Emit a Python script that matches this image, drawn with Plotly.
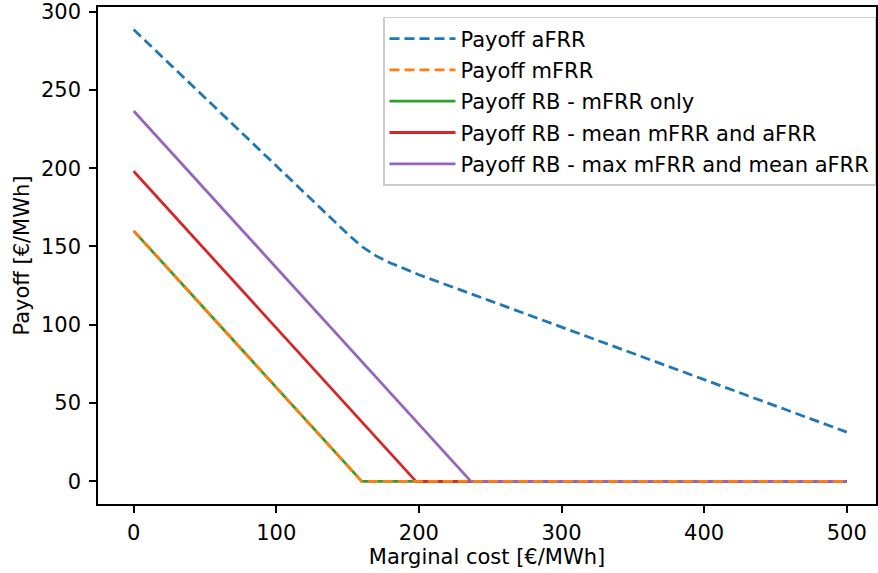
import plotly.graph_objects as go

# Marginal cost grid (€/MWh) and payoff curves (€/MWh)
cost_afrr = [0, 40, 80, 120, 150, 160, 170, 180, 190, 200, 250, 300, 350, 400, 450, 500]
payoff_afrr = [288.5, 253.7, 218.9, 184.1, 158.0, 150.0, 144.0, 139.5, 135.5, 132.0,
               115.3, 98.5, 81.8, 65.0, 48.3, 31.5]

cost_mfrr = [0, 160, 500]
payoff_mfrr = [160, 0, 0]

cost_rb_mfrr = [0, 160, 500]
payoff_rb_mfrr = [160, 0, 0]

cost_rb_mean = [0, 198, 500]
payoff_rb_mean = [198, 0, 0]

cost_rb_max = [0, 236.5, 500]
payoff_rb_max = [236.5, 0, 0]

x_ticks = [0, 100, 200, 300, 400, 500]
y_ticks = [0, 50, 100, 150, 200, 250, 300]

FONT = "DejaVu Sans"
FS = 21
LW = 2.8
DASH = "10px,5px"

fig = go.Figure()


def add_curve(x, y, name, color, dashed, rank):
    fig.add_trace(go.Scatter(
        x=x, y=y, mode="lines", name=name,
        line=dict(color=color, width=LW, dash=DASH if dashed else "solid"),
        legendrank=rank, legendgroup=name,
    ))


# Solid RB curves first, the dashed mFRR curve is drawn on top of them
add_curve(cost_afrr, payoff_afrr, "Payoff aFRR", "#1f77b4", True, 1)
add_curve(cost_rb_mfrr, payoff_rb_mfrr, "Payoff RB - mFRR only", "#2ca02c", False, 3)
add_curve(cost_rb_mean, payoff_rb_mean, "Payoff RB - mean mFRR and aFRR", "#d62728", False, 4)
add_curve(cost_rb_max, payoff_rb_max, "Payoff RB - max mFRR and mean aFRR", "#9467bd", False, 5)
add_curve(cost_mfrr, payoff_mfrr, "Payoff mFRR", "#ff7f0e", True, 2)

axis_common = dict(
    showline=True, linecolor="black", linewidth=1.5, mirror=True,
    ticks="outside", ticklen=7, tickwidth=1.5, tickcolor="black",
    showgrid=False, zeroline=False, ticklabeloverflow="allow",
    tickfont=dict(family=FONT, size=FS, color="black"),
)

fig.update_layout(
    width=878, height=573,
    margin=dict(l=98, r=0, t=7, b=69),
    paper_bgcolor="white", plot_bgcolor="white",
    font=dict(family=FONT, size=FS, color="black"),
    xaxis=dict(range=[-25, 520.5], tickvals=x_ticks, ticklabelstandoff=2,
               title=dict(text="Marginal cost [€/MWh]", font=dict(size=FS), standoff=2),
               **axis_common),
    yaxis=dict(range=[-14.4, 302.9], tickvals=y_ticks, ticklabelstandoff=4,
               title=dict(text="Payoff [€/MWh]", font=dict(size=FS), standoff=6),
               **axis_common),
    legend=dict(x=1.0, xanchor="right", y=0.98, yanchor="top",
                bgcolor="rgba(255,255,255,0.8)", bordercolor="#cccccc", borderwidth=1.5,
                font=dict(family=FONT, size=FS, color="black"),
                itemwidth=66, tracegroupgap=1),
    showlegend=True,
)

fig.write_html("out.html")
